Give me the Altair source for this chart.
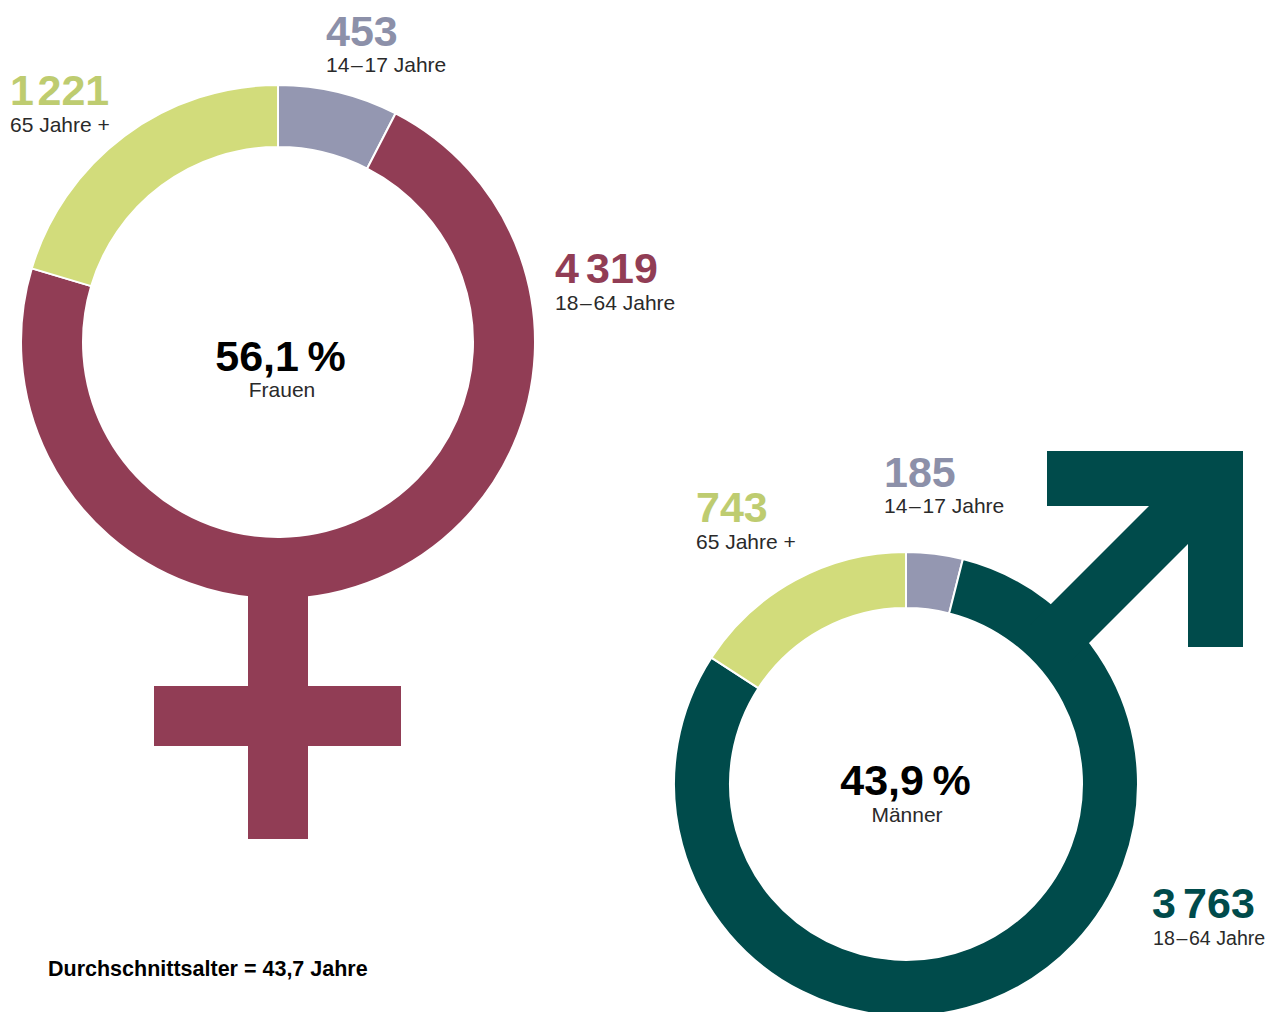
import altair as alt
import pandas as pd

age_groups = ["14–17 Jahre", "18–64 Jahre", "65 Jahre +"]
frauen_values = [453, 4319, 1221]
maenner_values = [185, 3763, 743]

MAROON = "#913D55"
TEAL = "#004B4B"
LIME = "#D2DC7B"
GREY = "#9497B1"
LIME_TXT = "#BECC70"
GREY_TXT = "#8C90A9"
FONT = "Liberation Sans"
M = 8  # page margin


def table(values, prefix):
    return pd.DataFrame({
        "segment": [f"{prefix} {a}" for a in age_groups],
        "n": values,
        "rank": [0, 1, 2],
    })


seg_domain = [f"F {a}" for a in age_groups] + [f"M {a}" for a in age_groups]
seg_range = [GREY, MAROON, LIME, GREY, TEAL, LIME]


def ring(values, prefix, cx, cy, r_out, r_in):
    return alt.Chart(table(values, prefix)).mark_arc(
        radius=r_out + 1, radius2=r_in - 1, stroke="white", strokeWidth=2
    ).encode(
        x=alt.value(cx - M),
        y=alt.value(cy - M),
        theta=alt.Theta("n:Q", stack="normalize",
                        scale=alt.Scale(domain=[0, 1], range=[0, 6.283185307])),
        color=alt.Color("segment:N", legend=None,
                        scale=alt.Scale(domain=seg_domain, range=seg_range)),
        order=alt.Order("rank:Q"),
    )


def block(x1, y1, x2, y2, color):
    return alt.Chart().mark_rect(color=color).encode(
        x=alt.value(x1 - M), x2=alt.value(x2 - M),
        y=alt.value(y1 - M), y2=alt.value(y2 - M),
    )


def label(text, x, y, size, color="#2a2a2a", bold=False, align="left"):
    return alt.Chart().mark_text(
        text=text, align=align, baseline="alphabetic", font=FONT, fontSize=size,
        fontWeight="bold" if bold else "normal", color=color,
    ).encode(x=alt.value(x - M), y=alt.value(y - M))


arrow_shaft = alt.Chart().mark_rule(color=TEAL, strokeWidth=54.4, strokeCap="butt").encode(
    x=alt.value(1050 - M), x2=alt.value(1215.5 - M),
    y=alt.value(643.5 - M), y2=alt.value(478 - M),
)

NUM = 43
SUB = 21
HAIR = "\u200a"
SIXTH = "\u2006"
THIN = "\u2009"

layers = [
    ring(frauen_values, "F", 278, 342, 256, 196),
    ring(maenner_values, "M", 906, 784, 231, 177),
    block(248, 570, 308, 839, MAROON),
    block(154, 686, 401, 746, MAROON),
    arrow_shaft,
    block(1047, 451, 1243, 506, TEAL),
    block(1188, 451, 1243, 647, TEAL),
    label("453", 326, 46, NUM, GREY_TXT, True),
    label(f"14{HAIR}–{HAIR}17 Jahre", 326, 72, SUB),
    label(f"1{HAIR}221", 10, 105, NUM, LIME_TXT, True),
    label("65 Jahre +", 10, 132, SUB),
    label(f"4{SIXTH}319", 555, 283, NUM, MAROON, True),
    label(f"18{HAIR}–{HAIR}64 Jahre", 555, 310, SUB),
    label(f"56,1{THIN}%", 280.5, 371, 43, "#000000", True, "center"),
    label("Frauen", 282, 397, SUB, align="center"),
    label("185", 884, 487, NUM, GREY_TXT, True),
    label(f"14{HAIR}–{HAIR}17 Jahre", 884, 513, SUB),
    label("743", 696, 522, NUM, LIME_TXT, True),
    label("65 Jahre +", 696, 549, SUB),
    label(f"3{SIXTH}763", 1152, 918, NUM, TEAL, True),
    label(f"18{HAIR}–{HAIR}64 Jahre", 1153, 945, 19.6),
    label(f"43,9{THIN}%", 905.5, 795, 43, "#000000", True, "center"),
    label("Männer", 907, 822, SUB, align="center"),
    label("Durchschnittsalter = 43,7 Jahre", 48, 976, 21.5, "#000000", True),
]

chart = alt.layer(*layers).properties(
    width=1260, height=1004, padding=0,
    autosize=alt.AutoSizeParams(type="none"),
).configure_view(stroke=None)

chart.save("out.html", embed_options={"renderer": "svg", "actions": False})
